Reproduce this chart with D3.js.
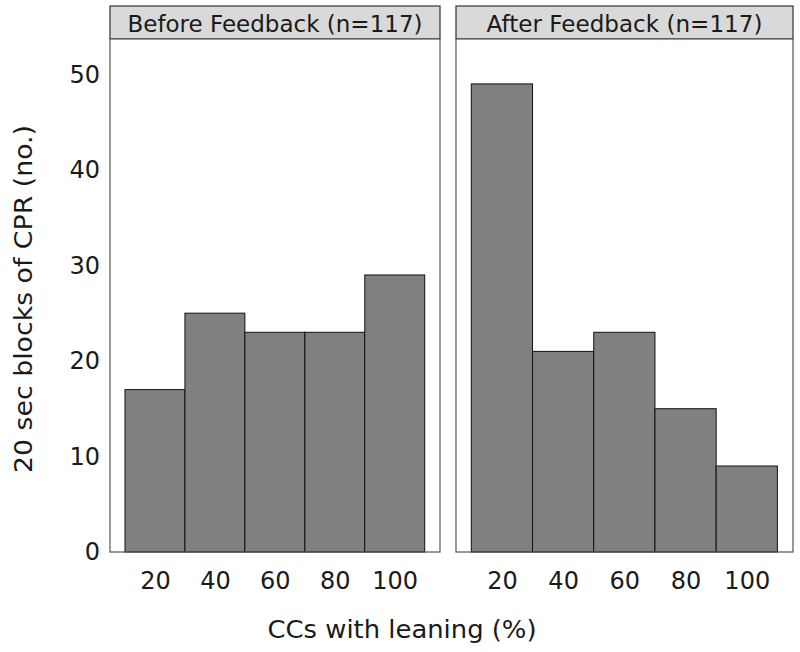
<!DOCTYPE html>
<html>
<head>
<meta charset="utf-8">
<script src="https://cdn.jsdelivr.net/npm/d3@7"></script>
<style>
  body { margin: 0; background: #fff; }
  text { font-family: "DejaVu Sans", sans-serif; fill: #1a1a1a; }
</style>
</head>
<body>
<svg id="chart" width="800" height="652"></svg>
<script>
// histogram bins (bin centres, % of CCs with leaning)
var binCentres = [20, 40, 60, 80, 100];
var beforeCounts = [17, 25, 23, 23, 29];
var afterCounts = [49, 21, 23, 15, 9];
var panelTitles = ['Before Feedback (n=117)', 'After Feedback (n=117)'];
var yTicks = [0, 10, 20, 30, 40, 50];
var xTicks = [20, 40, 60, 80, 100];

var svg = d3.select('#chart');
var binWidth = 20;
var stripTop = 6, panelTop = 39, panelBottom = 552;

var panels = [
    { x0: 110, x1: 440, title: panelTitles[0], titleLen: 295, counts: beforeCounts, showY: true },
    { x0: 456, x1: 793, title: panelTitles[1], titleLen: 276, counts: afterCounts, showY: false }
];

var y = d3.scaleLinear().domain([0, 53.7]).range([panelBottom, panelTop]);

panels.forEach(function (p) {
    var x = d3.scaleLinear().domain([5, 115.1]).range([p.x0, p.x1]);
    var g = svg.append('g');

    // strip
    g.append('rect')
        .attr('x', p.x0).attr('y', stripTop)
        .attr('width', p.x1 - p.x0).attr('height', panelTop - stripTop)
        .attr('fill', '#d9d9d9').attr('stroke', '#333').attr('stroke-width', 1.2);
    g.append('text')
        .attr('x', (p.x0 + p.x1) / 2).attr('y', 32)
        .attr('text-anchor', 'middle')
        .attr('textLength', p.titleLen).attr('lengthAdjust', 'spacingAndGlyphs')
        .style('font-size', '23px')
        .text(p.title);

    // panel background
    g.append('rect')
        .attr('x', p.x0).attr('y', panelTop)
        .attr('width', p.x1 - p.x0).attr('height', panelBottom - panelTop)
        .attr('fill', '#fff');

    var data = binCentres.map(function (c, i) { return { c: c, n: p.counts[i] }; });
    g.selectAll('rect.bar')
        .data(data)
        .enter().append('rect')
        .attr('class', 'bar')
        .attr('x', function (d) { return x(d.c - binWidth / 2); })
        .attr('width', function (d) { return x(d.c + binWidth / 2) - x(d.c - binWidth / 2); })
        .attr('y', function (d) { return y(d.n); })
        .attr('height', function (d) { return y(0) - y(d.n); })
        .attr('fill', '#808080').attr('stroke', '#111').attr('stroke-width', 1);

    // panel border
    g.append('rect')
        .attr('x', p.x0).attr('y', panelTop)
        .attr('width', p.x1 - p.x0).attr('height', panelBottom - panelTop)
        .attr('fill', 'none').attr('stroke', '#555').attr('stroke-width', 1.2);

    // x axis labels (no tick marks)
    var xAxis = d3.axisBottom(x).tickValues(xTicks).tickSize(0).tickPadding(0);
    var xg = g.append('g').attr('transform', 'translate(0,' + panelBottom + ')').call(xAxis);
    xg.select('.domain').remove();
    xg.selectAll('text').style('font-size', '24px').attr('fill', '#1a1a1a')
        .attr('dy', null).attr('y', 37);

    if (p.showY) {
        var yAxis = d3.axisLeft(y).tickValues(yTicks).tickSize(0).tickPadding(10);
        var yg = g.append('g').attr('transform', 'translate(' + p.x0 + ',0)').call(yAxis);
        yg.select('.domain').remove();
        yg.selectAll('text').style('font-size', '24px').attr('fill', '#1a1a1a');
    }
});

// axis titles
svg.append('text')
    .attr('x', 402).attr('y', 638)
    .attr('text-anchor', 'middle')
    .attr('textLength', 269).attr('lengthAdjust', 'spacingAndGlyphs')
    .style('font-size', '24px')
    .text('CCs with leaning (%)');

svg.append('text')
    .attr('transform', 'translate(32,299) rotate(-90)')
    .attr('text-anchor', 'middle')
    .attr('textLength', 348).attr('lengthAdjust', 'spacingAndGlyphs')
    .style('font-size', '24px')
    .text('20 sec blocks of CPR (no.)');
</script>
</body>
</html>
